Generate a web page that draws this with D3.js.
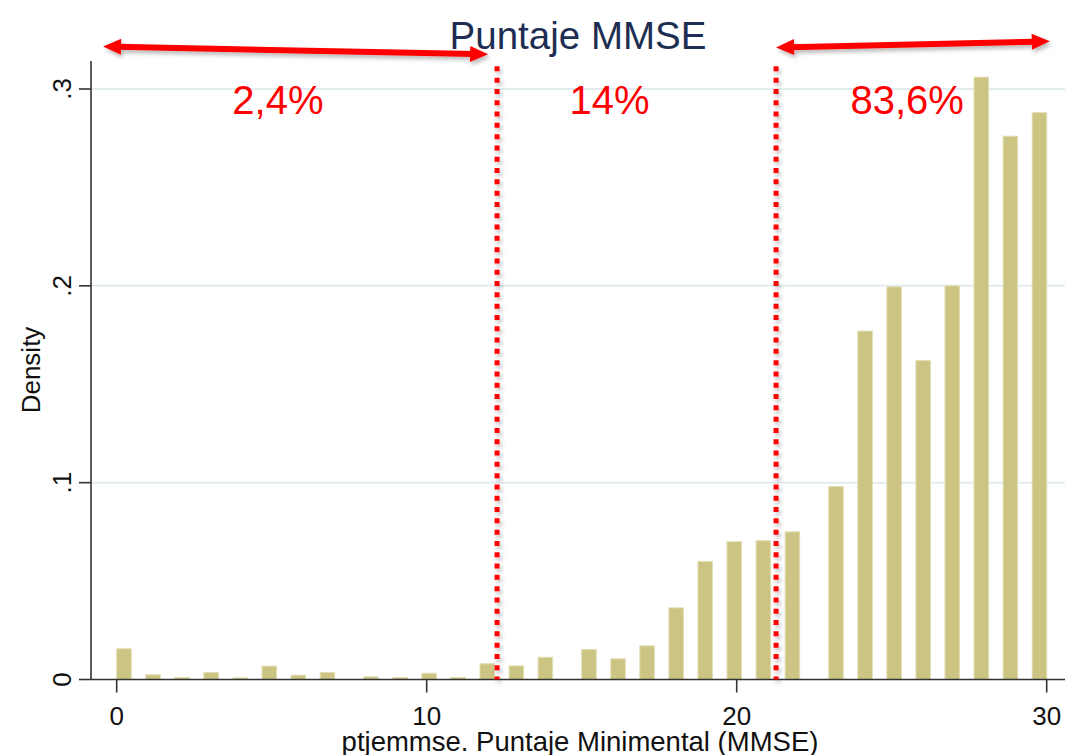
<!DOCTYPE html>
<html>
<head>
<meta charset="utf-8">
<script src="https://cdn.jsdelivr.net/npm/d3@7"></script>
<style>
  body { margin: 0; background: #fff; }
  text { font-family: "Liberation Sans", Arial, sans-serif; }
</style>
</head>
<body>
<div id="chart"></div>
<script>
// MMSE scores (0..30) and histogram density
var puntaje = [0, 1, 2, 3, 4, 5, 6, 7, 8, 9, 10, 11, 12, 13, 14, 15,
               16, 17, 18, 19, 20, 21, 22, 23, 24, 25, 26, 27, 28, 29, 30];
var density = [0.0156, 0.0024, 0.0010, 0.0036, 0.0008, 0.0068, 0.0022, 0.0036,
               0.0014, 0.0010, 0.0032, 0.0010, 0.0080, 0.0069, 0.0113, 0.0152,
               0.0105, 0.0171, 0.0364, 0.0600, 0.0700, 0.0705, 0.0750, 0.0980,
               0.1770, 0.1995, 0.1620, 0.2000, 0.3060, 0.2760, 0.2880];
var nBins = 64;               // Stata default bins, width 30/64
var xTicks = [0, 10, 20, 30];
var yTicks = [0, 0.1, 0.2, 0.3];
var yTickLabels = ["0", ".1", ".2", ".3"];
var cortes = [12.27, 21.27];  // red dotted cut lines
var porcentajes = ["2,4%", "14%", "83,6%"];
var porcentajeX = [5.2, 15.9, 25.5];

var width = 1065,
    height = 755;

var x = d3.scaleLinear().domain([0, 30]).range([116.7, 1046.7]);
var y = d3.scaleLinear().domain([0, 0.3]).range([679.5, 89]);
var binW = 30 / nBins;

function binStart(v) {
  var k = Math.min(Math.floor(v / binW), nBins - 1);
  return k * binW;
}

var svg = d3.select("#chart").append("svg")
    .attr("width", width)
    .attr("height", height);

var defs = svg.append("defs");
var f = defs.append("filter").attr("id", "ombre")
    .attr("filterUnits", "userSpaceOnUse")
    .attr("x", 0).attr("y", 0).attr("width", width).attr("height", height);
f.append("feDropShadow").attr("dx", 2).attr("dy", 3)
    .attr("stdDeviation", 2).attr("flood-color", "#000").attr("flood-opacity", 0.28);

// gridlines
svg.append("g").selectAll("line")
    .data(yTicks.slice(1))
    .enter().append("line")
    .attr("x1", 91).attr("x2", width)
    .attr("y1", function (d) { return y(d); })
    .attr("y2", function (d) { return y(d); })
    .attr("stroke", "#e3ecee").attr("stroke-width", 2);

// bars
svg.append("g").selectAll("rect")
    .data(puntaje)
    .enter().append("rect")
    .attr("x", function (d) { return x(binStart(d)); })
    .attr("width", function (d) { return x(binStart(d) + binW) - x(binStart(d)); })
    .attr("y", function (d, i) { return y(density[i]); })
    .attr("height", function (d, i) { return y(0) - y(density[i]); })
    .attr("fill", "#cbc483")
    .attr("stroke", "#e2ddb2")
    .attr("stroke-width", 1);

// axes
var xAxis = svg.append("g").attr("transform", "translate(0," + y(0) + ")");
xAxis.append("line").attr("x1", 91).attr("x2", width)
    .attr("stroke", "#333").attr("stroke-width", 1.6);
xAxis.selectAll(".tk").data(xTicks).enter().append("line")
    .attr("x1", function (d) { return x(d); }).attr("x2", function (d) { return x(d); })
    .attr("y1", 0).attr("y2", 13)
    .attr("stroke", "#333").attr("stroke-width", 1.6);
xAxis.selectAll("text").data(xTicks).enter().append("text")
    .attr("x", function (d) { return x(d); })
    .attr("y", 45)
    .attr("text-anchor", "middle")
    .attr("font-size", 26)
    .attr("fill", "#111")
    .text(function (d) { return d; });

var yAxis = svg.append("g").attr("transform", "translate(91,0)");
yAxis.append("line").attr("y1", 61).attr("y2", y(0))
    .attr("stroke", "#333").attr("stroke-width", 1.6);
yAxis.selectAll(".tk").data(yTicks).enter().append("line")
    .attr("x1", -12).attr("x2", 0)
    .attr("y1", function (d) { return y(d); }).attr("y2", function (d) { return y(d); })
    .attr("stroke", "#333").attr("stroke-width", 1.6);
yAxis.selectAll("text").data(yTicks).enter().append("text")
    .attr("transform", function (d) { return "translate(-20," + y(d) + ") rotate(-90)"; })
    .attr("text-anchor", "middle")
    .attr("font-size", 26)
    .attr("fill", "#111")
    .text(function (d, i) { return yTickLabels[i]; });

// axis titles
svg.append("text")
    .attr("transform", "translate(40,370) rotate(-90)")
    .attr("text-anchor", "middle")
    .attr("font-size", 26)
    .attr("fill", "#111")
    .text("Density");

svg.append("text")
    .attr("x", 580).attr("y", 751)
    .attr("text-anchor", "middle")
    .attr("font-size", 27.5)
    .attr("fill", "#111")
    .text("ptjemmse. Puntaje Minimental (MMSE)");

// title
svg.append("text")
    .attr("x", 578).attr("y", 49)
    .attr("text-anchor", "middle")
    .attr("font-size", 38.5)
    .attr("fill", "#1e2d52")
    .text("Puntaje MMSE");

// red dotted cut lines
svg.append("g").attr("filter", "url(#ombre)").selectAll("line")
    .data(cortes)
    .enter().append("line")
    .attr("x1", function (d) { return x(d); }).attr("x2", function (d) { return x(d); })
    .attr("y1", y(0.3115)).attr("y2", y(0))
    .attr("stroke", "#ff0000")
    .attr("stroke-width", 5)
    .attr("stroke-dasharray", "5,6.3");

// double-headed arrows
var fleches = [
  [[-0.44, 0.3216], [11.98, 0.3176]],
  [[21.27, 0.3211], [30.1, 0.3242]]
];
function arrowHead(p, q) {
  // tip at p, pointing away from q
  var dx = p[0] - q[0], dy = p[1] - q[1], l = Math.sqrt(dx * dx + dy * dy);
  var ux = dx / l, uy = dy / l, len = 18, hw = 8;
  var bx = p[0] - ux * len, by = p[1] - uy * len;
  return [[p[0], p[1]], [bx - uy * hw, by + ux * hw], [bx + uy * hw, by - ux * hw]];
}
var gF = svg.append("g").attr("filter", "url(#ombre)");
fleches.forEach(function (f) {
  var a = [x(f[0][0]), y(f[0][1])], b = [x(f[1][0]), y(f[1][1])];
  var dx = b[0] - a[0], dy = b[1] - a[1], l = Math.sqrt(dx * dx + dy * dy);
  gF.append("line")
    .attr("x1", a[0] + dx / l * 14).attr("y1", a[1] + dy / l * 14)
    .attr("x2", b[0] - dx / l * 14).attr("y2", b[1] - dy / l * 14)
    .attr("stroke", "#ff0000").attr("stroke-width", 6);
  gF.append("polygon").attr("points", arrowHead(a, b).join(" ")).attr("fill", "#ff0000");
  gF.append("polygon").attr("points", arrowHead(b, a).join(" ")).attr("fill", "#ff0000");
});

// percentages
svg.append("g").selectAll("text")
    .data(porcentajes)
    .enter().append("text")
    .attr("x", function (d, i) { return x(porcentajeX[i]); })
    .attr("y", 114)
    .attr("text-anchor", "middle")
    .attr("font-family", "Lato, 'Open Sans', sans-serif")
    .attr("font-size", 40)
    .attr("fill", "#ff0000")
    .text(function (d) { return d; });
</script>
</body>
</html>
